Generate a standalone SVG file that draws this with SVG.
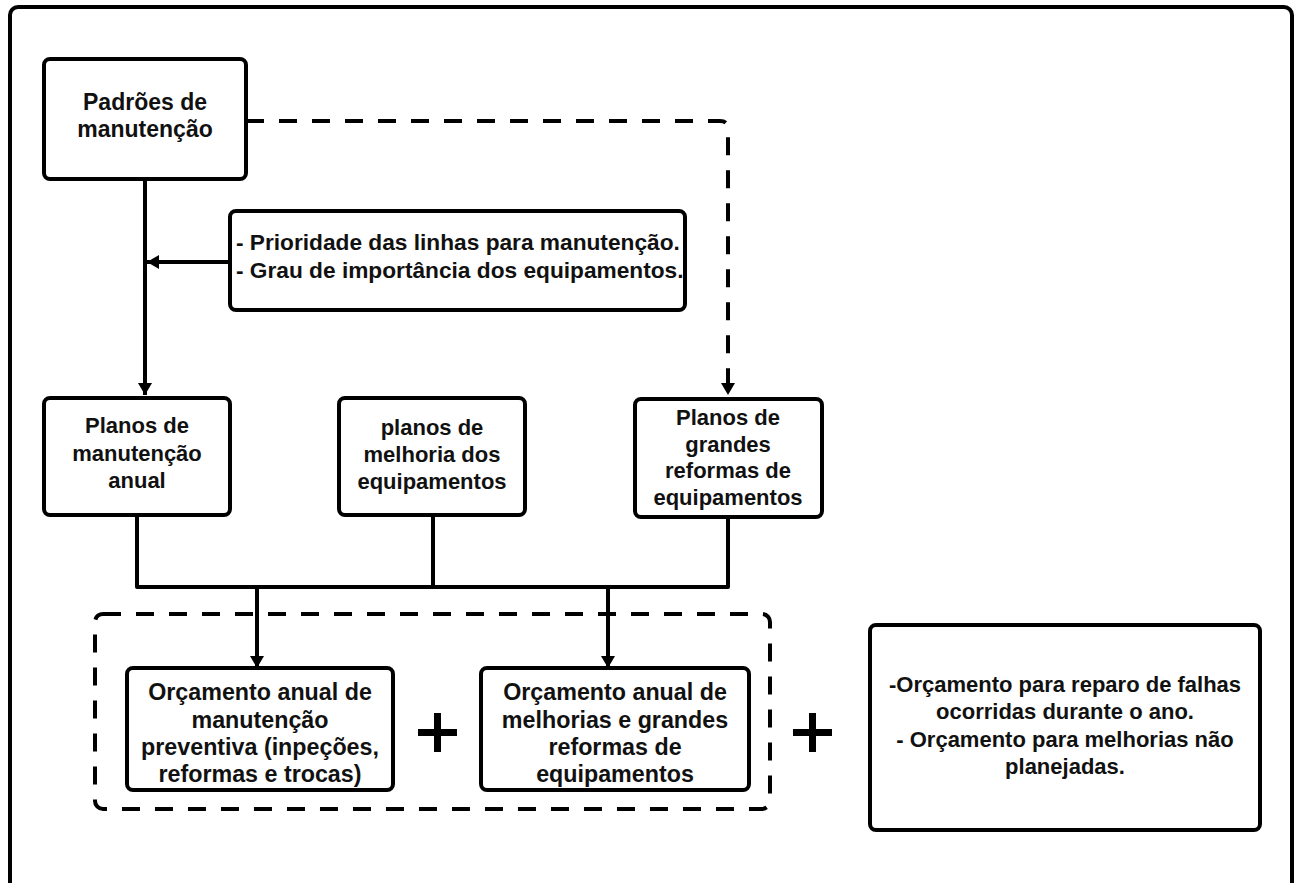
<svg xmlns="http://www.w3.org/2000/svg" width="1295" height="883" viewBox="0 0 1295 883">
  <defs>
    <marker id="arrow" viewBox="0 0 12 16" refX="12" refY="8" markerWidth="12" markerHeight="16" markerUnits="userSpaceOnUse" orient="auto">
      <path d="M0,1 L12,8 L0,15 Z" fill="#000"/>
    </marker>
    <style>
      .box { fill: #fff; stroke: #000; stroke-width: 4; }
      .frame { fill: #fff; stroke: #000; stroke-width: 4; }
      .dash { fill: none; stroke: #000; stroke-width: 4; stroke-dasharray: 18 15; }
      .line { fill: none; stroke: #000; stroke-width: 4; stroke-linejoin: round; }
      .t { font-family: "Liberation Sans", Arial, sans-serif; font-weight: bold; font-size: 22px; fill: #111; text-anchor: middle; }
      .tl { text-anchor: start; font-size: 22.7px; }
      .tb { font-size: 23px; }
      .tn { font-size: 24px; }
      .plus { fill: #000; }
    </style>
  </defs>

  <!-- outer frame -->
  <rect class="frame" x="10" y="7" width="1282" height="900" rx="8"/>

  <!-- connectors -->
  <g id="connectors">
    <path class="line" d="M145,179 V395" marker-end="url(#arrow)"/>
    <path class="line" d="M230,262 H147" marker-end="url(#arrow)"/>
    <path class="dash" d="M246,121 H720 Q728,121 728,129 V395" marker-end="url(#arrow)"/>
    <path class="line" d="M137,515 V587 H728 V517"/>
    <path class="line" d="M433,515 V587"/>
    <path class="line" d="M257,587 V668" marker-end="url(#arrow)"/>
    <path class="line" d="M608,587 V668" marker-end="url(#arrow)"/>
  </g>

  <!-- grouping of the annual budgets -->
  <rect id="budget-group" class="dash" x="95" y="614" width="675" height="195" rx="8"/>

  <g id="padroes">
    <rect class="box" x="44" y="59" width="202" height="120" rx="6"/>
    <text class="t tb" x="145" y="110">Padrões de</text>
    <text class="t tb" x="145" y="137">manutenção</text>
  </g>

  <g id="prioridade">
    <rect class="box" x="230" y="211" width="455" height="99" rx="6"/>
    <text class="t tl" x="236" y="250">- Prioridade das linhas para manutenção.</text>
    <text class="t tl" x="236" y="278">- Grau de importância dos equipamentos.</text>
  </g>

  <g id="planos-manutencao">
    <rect class="box" x="44" y="398" width="186" height="117" rx="6"/>
    <text class="t" x="137" y="433">Planos de</text>
    <text class="t" x="137" y="461">manutenção</text>
    <text class="t" x="137" y="488">anual</text>
  </g>

  <g id="planos-melhoria">
    <rect class="box" x="339" y="398" width="186" height="117" rx="6"/>
    <text class="t" x="432" y="435">planos de</text>
    <text class="t" x="432" y="462">melhoria dos</text>
    <text class="t" x="432" y="489">equipamentos</text>
  </g>

  <g id="planos-reformas">
    <rect class="box" x="635" y="399" width="187" height="118" rx="6"/>
    <text class="t" x="728" y="425">Planos de</text>
    <text class="t" x="728" y="452">grandes</text>
    <text class="t" x="728" y="478">reformas de</text>
    <text class="t" x="728" y="505">equipamentos</text>
  </g>

  <g id="orcamento-preventiva">
    <rect class="box" x="127" y="668" width="266" height="122" rx="6"/>
    <g transform="translate(260,0) scale(0.97,1)">
      <text class="t tn" x="0" y="700">Orçamento anual de</text>
      <text class="t tn" x="0" y="728">manutenção</text>
      <text class="t tn" x="0" y="755">preventiva (inpeções,</text>
      <text class="t tn" x="0" y="782">reformas e trocas)</text>
    </g>
  </g>

  <path id="plus-1" class="plus" d="M434,713 h7 v16 h16 v7 h-16 v16 h-7 v-16 h-16 v-7 h16 Z"/>

  <g id="orcamento-melhorias">
    <rect class="box" x="481" y="668" width="268" height="122" rx="6"/>
    <g transform="translate(615,0) scale(0.97,1)">
      <text class="t tn" x="0" y="700">Orçamento anual de</text>
      <text class="t tn" x="0" y="728">melhorias e grandes</text>
      <text class="t tn" x="0" y="755">reformas de</text>
      <text class="t tn" x="0" y="782">equipamentos</text>
    </g>
  </g>

  <path id="plus-2" class="plus" d="M809,713 h7 v16 h16 v7 h-16 v16 h-7 v-16 h-16 v-7 h16 Z"/>

  <g id="orcamento-nao-planejado">
    <rect class="box" x="870" y="625" width="390" height="205" rx="6"/>
    <text class="t" x="1065" y="692" font-size="22.5">-Orçamento para reparo de falhas</text>
    <text class="t" x="1065" y="719">ocorridas durante o ano.</text>
    <text class="t" x="1065" y="747">- Orçamento para melhorias não</text>
    <text class="t" x="1065" y="774">planejadas.</text>
  </g>
</svg>
